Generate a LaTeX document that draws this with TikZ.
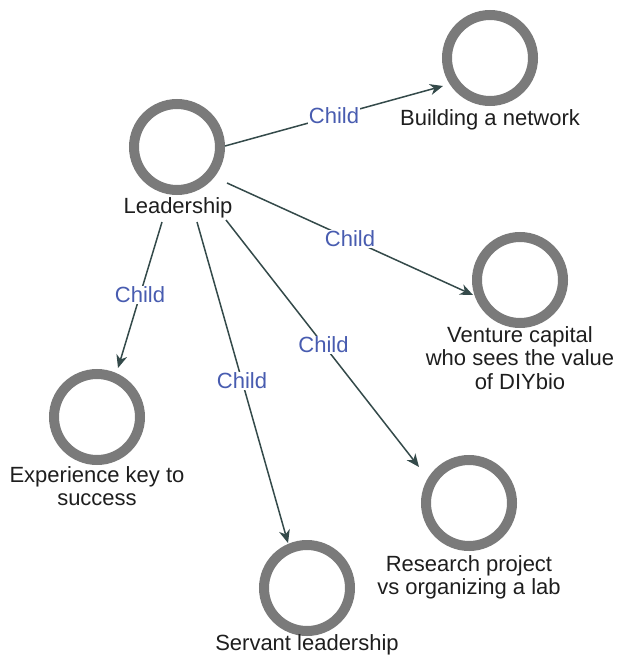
\documentclass[tikz,border=0pt]{standalone}
\usepackage{fontspec}
\setmainfont{Liberation Sans}
\usetikzlibrary{arrows.meta}
\definecolor{ringgray}{RGB}{122,122,122}
\definecolor{linkcol}{RGB}{52,74,74}
\definecolor{childblue}{RGB}{72,92,176}
\definecolor{txtcol}{RGB}{30,30,30}
\tikzset{
  topic/.style={circle, draw=ringgray, line width=10pt, minimum size=86pt, inner sep=0pt, fill=white},
  caption/.style={text=txtcol, align=center, inner sep=0pt,
    font=\fontsize{22}{23.5}\selectfont},
  link/.style={draw=linkcol, line width=1.5pt,
    -{Stealth[length=13pt, width=11pt, inset=4pt]}},
  rel/.style={text=childblue, fill=white, inner sep=1pt,
    font=\fontsize{22}{24}\selectfont},
}
\begin{document}
\begin{tikzpicture}[x=1pt, y=-1pt]
  \useasboundingbox (0,0) rectangle (616,661);

  % topics
  \node[topic] (lead)  at (177,147) {};
  \node[topic] (build) at (490,58)  {};
  \node[topic] (vent)  at (520,280) {};
  \node[topic] (res)   at (469,503) {};
  \node[topic] (exp)   at (97,417)  {};
  \node[topic] (serv)  at (307,588) {};

  % captions
  \node[caption] (leadT)  at (178,208) {Leadership};
  \node[caption] (buildT) at (490,120) {Building a network};
  \node[caption, anchor=north] (ventT) at (520,326)
    {Venture capital\\who sees the value\\of DIYbio};
  \node[caption, anchor=north] (resT) at (469,555)
    {Research project\\vs organizing a lab};
  \node[caption, anchor=north] (expT) at (97,466)
    {Experience key to\\success};
  \node[caption] (servT) at (307,645) {Servant leadership};

  % connector end points on the Leadership topic
  \coordinate (o1) at (225,146);
  \coordinate (o2) at (227,183);
  \coordinate (o3) at (226,220);
  \coordinate (o4) at (197,222);
  \coordinate (o5) at (162,222);
  % arrow tips at the child topics
  \coordinate (t1) at (443,86);
  \coordinate (t2) at (473,295);
  \coordinate (t3) at (419,467);
  \coordinate (t4) at (288,543);
  \coordinate (t5) at (118,368);

  % parent-child links
  \draw[link] (o1) -- (t1) node[rel, pos=0.5] {Child};
  \draw[link] (o2) -- (t2) node[rel, pos=0.5] {Child};
  \draw[link] (o3) -- (t3) node[rel, pos=0.505] {Child};
  \draw[link] (o4) -- (t4) node[rel, pos=0.494] {Child};
  \draw[link] (o5) -- (t5) node[rel, pos=0.5] {Child};
\end{tikzpicture}
\end{document}
